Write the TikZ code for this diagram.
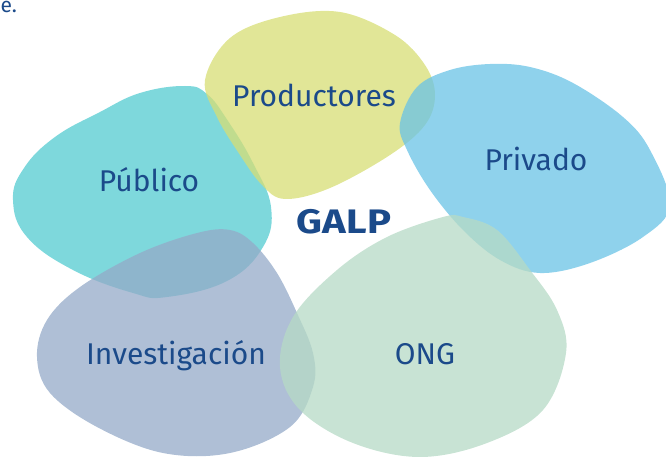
\documentclass[tikz,border=0pt]{standalone}
\usepackage{fontspec}
\setmainfont{Fira Sans}
\usetikzlibrary{positioning}
\definecolor{galpblue}{RGB}{27,74,138}
\definecolor{prodcol}{RGB}{215,222,116}
\definecolor{pubcol}{RGB}{83,203,208}
\definecolor{privcol}{RGB}{106,195,230}
\definecolor{invcol}{RGB}{148,170,200}
\definecolor{ongcol}{RGB}{182,218,197}

\begin{document}
\begin{tikzpicture}[x=1pt,y=-1pt,
    blob/.style={fill opacity=0.75},
    lbl/.style={anchor=base,text=galpblue,font=\fontsize{30}{32}\selectfont}]
    \useasboundingbox (0,0) rectangle (666,457);
    % blobs
    \fill[blob,fill=pubcol] plot[smooth cycle,tension=0.7] coordinates
    {(185,86) (140,93) (100,112) (55,137) (24,168) (13,200) (27,237) (73,270)
     (133,293) (167,297) (227,281) (263,247) (271,207) (253,163) (228,121) (207,94)};
    \fill[blob,fill=invcol] plot[smooth cycle,tension=0.6] coordinates
    {(230,230) (197,233) (140,253) (80,287) (47,320) (37,357) (50,393) (97,427)
     (163,453) (230,453) (290,427) (313,387) (313,353) (297,313) (277,273) (253,243)};
    \fill[blob,fill=prodcol] plot[smooth cycle,tension=0.6] coordinates
    {(205,80) (217,117) (240,155) (262,185) (285,199) (330,188) (390,155)
     (425,125) (435,95) (425,65) (395,35) (340,12) (280,17) (230,38)};
    \fill[blob,fill=privcol] plot[smooth cycle,tension=0.6] coordinates
    {(490,64) (450,70) (417,87) (400,123) (407,150) (430,190) (463,230) (500,260)
     (540,273) (590,263) (643,237) (670,205) (650,150) (623,117) (573,83) (530,67)};
    \fill[blob,fill=ongcol] plot[smooth cycle,tension=0.6] coordinates
    {(463,217) (443,217) (387,237) (337,270) (293,317) (280,367) (300,410) (353,443)
     (420,457) (487,443) (543,410) (566,353) (557,310) (530,270) (497,230)};
    % labels
    \node[anchor=base west,text=galpblue,font=\fontsize{21}{23}\selectfont,inner sep=0pt] (prev) at (0.5,13) {e.};
    \node[lbl] (prod) at (314,107) {Productores};
    \node[lbl] (pub) at (149,192) {Público};
    \node[lbl] (priv) at (536,171) {Privado};
    \node[lbl] (inv) at (176,364) {Investigación};
    \node[lbl] (ong) at (425,364) {ONG};
    \node[lbl,font=\fontsize{34}{36}\selectfont\bfseries] (galp) at (344,233) {\scalebox{1.18}[1]{GALP}};
\end{tikzpicture}
\end{document}
